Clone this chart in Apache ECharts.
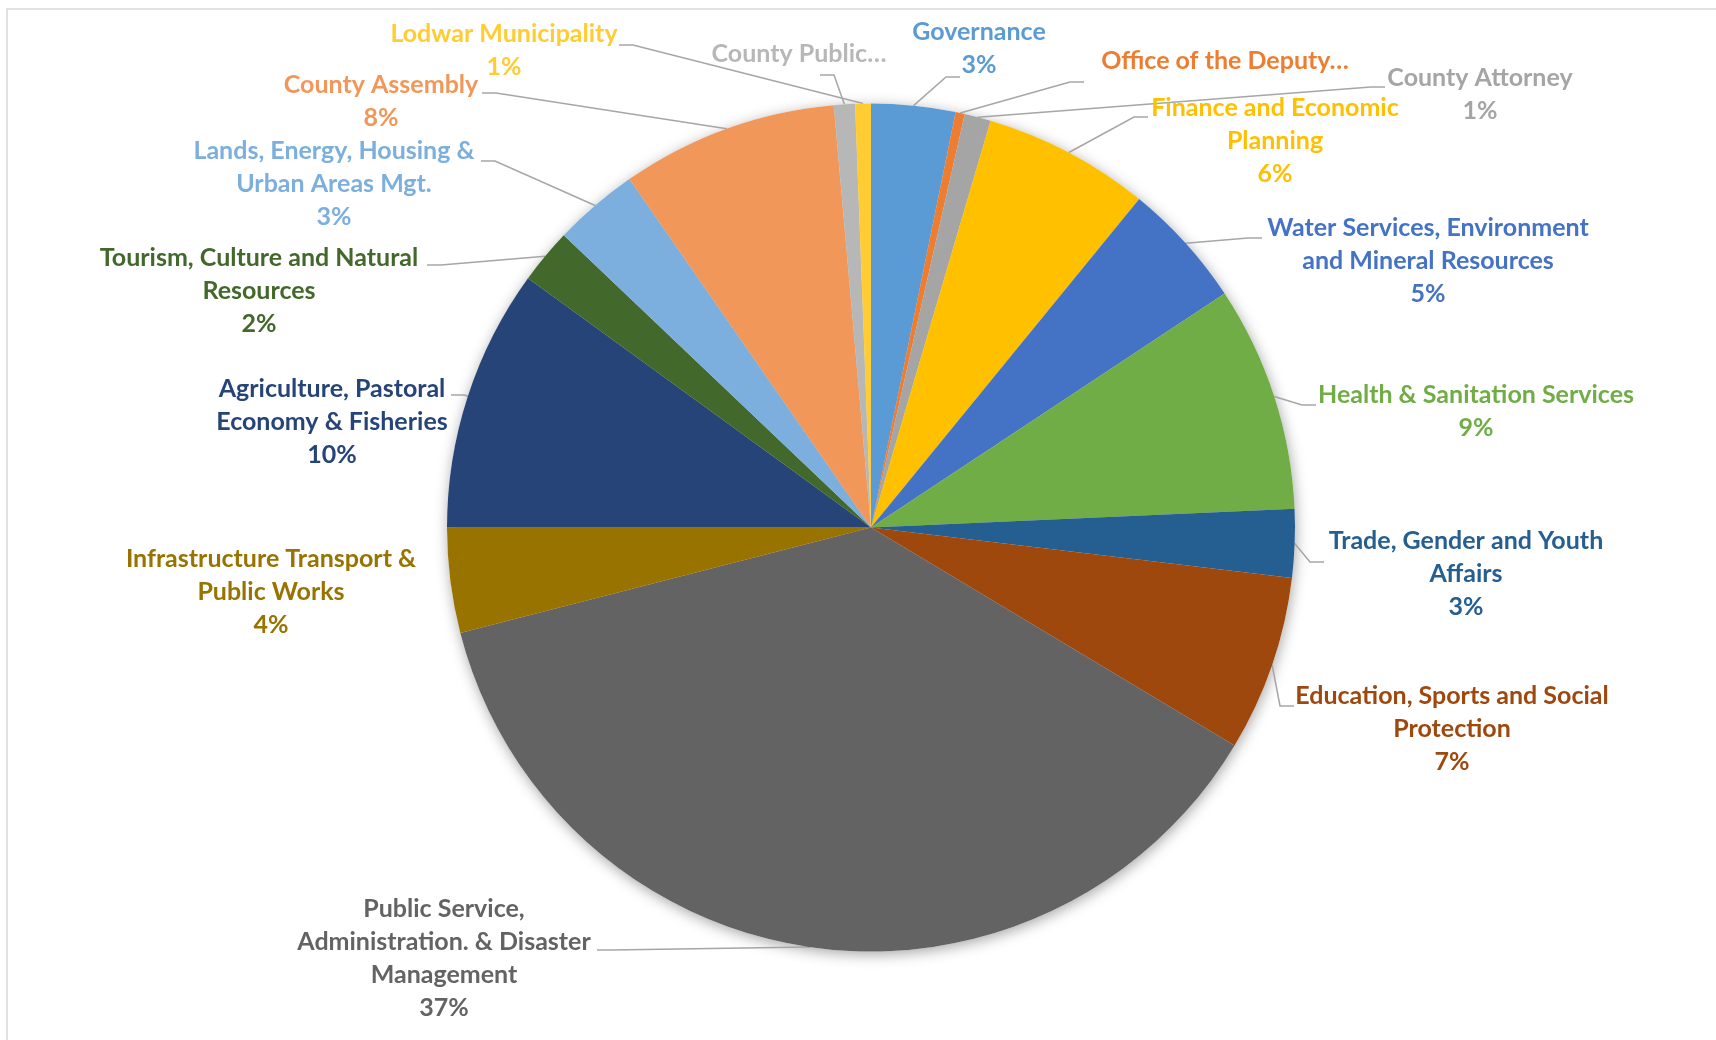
<!DOCTYPE html>
<html>
<head>
<meta charset="utf-8">
<title>Budget allocation pie</title>
<script src="https://cdn.jsdelivr.net/npm/echarts@6/dist/echarts.min.js"></script>
<style>
  html, body { margin: 0; padding: 0; background: #ffffff; }
  #chart { width: 1716px; height: 1040px; }
</style>
</head>
<body>
<div id="chart"></div>
<script>
// ---- data ----
const categories = [
  'Governance',
  'Office of the Deputy…',
  'County Attorney',
  'Finance and Economic\nPlanning',
  'Water Services, Environment\nand Mineral Resources',
  'Health & Sanitation Services',
  'Trade, Gender and Youth\nAffairs',
  'Education, Sports and Social\nProtection',
  'Public Service,\nAdministration. & Disaster\nManagement',
  'Infrastructure Transport &\nPublic Works',
  'Agriculture, Pastoral\nEconomy & Fisheries',
  'Tourism, Culture and Natural\nResources',
  'Lands, Energy, Housing &\nUrban Areas Mgt.',
  'County Assembly',
  'County Public…',
  'Lodwar Municipality'
];
const shares = [3.2, 0.35, 1.0, 6.35, 4.8, 8.6, 2.6, 6.7, 37.4, 4.0, 10.0, 2.1, 3.25, 8.25, 0.8, 0.6];
const showPercent = [true, false, true, true, true, true, true, true, true, true, true, true, true, true, false, true];

// ---- styles ----
const colors = ['#5B9BD5', '#ED7D31', '#A5A5A5', '#FFC000', '#4472C4', '#70AD47', '#255E91', '#9E480E',
                '#636363', '#997300', '#264478', '#43682B', '#7CAFDD', '#F1975A', '#B7B7B7', '#FFCD33'];
// label placement (label centre x, first-line centre y, leader stub end x/y) in px
const labelPlacement = [
  [979, 32, 960, 77],
  [1225, 61, 1084, 82],
  [1480, 78, 1385, 87],
  [1275, 108, 1148, 117],
  [1428, 228, 1262, 238],
  [1476, 395, 1316, 405],
  [1466, 541, 1324, 562],
  [1452, 696, 1294, 706],
  [444, 909, 597, 950],
  [271, 559, null, null],
  [332, 389, 451, 395],
  [259, 258, 427, 265],
  [334, 151, 481, 161],
  [381, 85, 482, 93],
  [799, 54, 820, 75],
  [504, 34, 619, 45]
];
const CX = 871, CY = 527.5, R = 424;
const LH = 33;
const FONT = 'Lato, "Open Sans", sans-serif';

const chart = echarts.init(document.getElementById('chart'), null, { renderer: 'canvas' });

const mainData = categories.map((name, i) => ({
  name: name,
  value: shares[i],
  itemStyle: { color: colors[i] },
  label: { color: colors[i] },
  labelLine: { show: labelPlacement[i][2] !== null }
}));
const shadowData = categories.map((name, i) => ({ name: name, value: shares[i] }));

const option = {
  animation: false,
  backgroundColor: '#ffffff',
  graphic: [{
    type: 'rect',
    shape: { x: 7, y: 9, width: 1800, height: 1200 },
    style: { fill: 'none', stroke: '#D9D9D9', lineWidth: 1.5 },
    silent: true,
    z: 0
  }],
  series: [
    {
      type: 'pie',
      z: 1,
      silent: true,
      center: [CX, CY],
      radius: R,
      startAngle: 90,
      clockwise: true,
      label: { show: false },
      labelLine: { show: false },
      itemStyle: {
        color: '#ffffff',
        borderWidth: 0,
        shadowBlur: 14,
        shadowColor: 'rgba(0,0,0,0.35)',
        shadowOffsetX: 1,
        shadowOffsetY: 3
      },
      data: shadowData
    },
    {
      type: 'pie',
      z: 2,
      center: [CX, CY],
      radius: R,
      startAngle: 90,
      clockwise: true,
      padAngle: 0,
      avoidLabelOverlap: false,
      itemStyle: { borderWidth: 0 },
      label: {
        show: true,
        position: 'outside',
        fontFamily: FONT,
        fontWeight: 'bold',
        fontSize: 25,
        lineHeight: LH,
        align: 'center',
        formatter: function (p) {
          return showPercent[p.dataIndex] ? p.name + '\n' + Math.round(p.percent) + '%' : p.name;
        }
      },
      labelLine: {
        show: true,
        length: 10,
        length2: 10,
        lineStyle: { color: '#A6A6A6', width: 1.5 }
      },
      labelLayout: function (params) {
        const i = params.dataIndex;
        const L = labelPlacement[i];
        const res = { x: L[0], y: L[1] - LH / 2, align: 'center', verticalAlign: 'top' };
        if (L[2] !== null && params.labelLinePoints) {
          const p0 = params.labelLinePoints[0];
          const dir = p0[0] > L[2] ? 1 : -1;
          res.labelLinePoints = [[p0[0], p0[1]], [L[2] + dir * 14, L[3]], [L[2], L[3]]];
        }
        return res;
      },
      data: mainData
    }
  ]
};
chart.setOption(option);
</script>
</body>
</html>
